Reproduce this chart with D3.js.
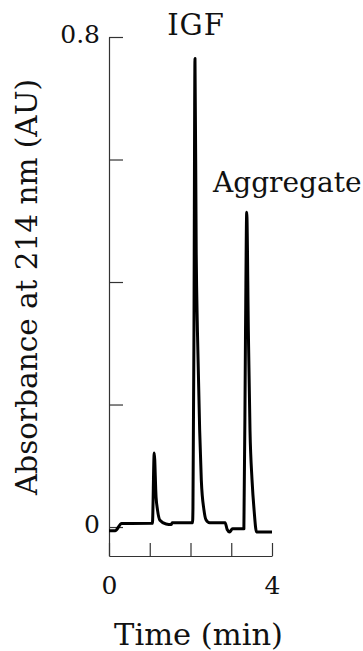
<!DOCTYPE html>
<html>
<head>
<meta charset="utf-8">
<script src="https://cdn.jsdelivr.net/npm/d3@7"></script>
<style>
  html, body { margin: 0; padding: 0; background: #fff; }
  svg { display: block; }
  text { font-family: "DejaVu Serif", "Liberation Serif", serif; fill: #111; }
</style>
</head>
<body>
<svg id="chart" width="363" height="651"></svg>
<script>
// Chromatogram trace: time (min) and absorbance (AU)
const timeMin = [0, 0.15, 0.31, 1.065, 1.11, 1.155, 1.19, 1.25, 1.4, 1.53, 1.55,
    2.05, 2.06, 2.085, 2.11, 2.14, 2.17, 2.225, 2.265, 2.33, 2.38, 2.47,
    2.85, 2.9, 2.96, 3.03, 3.31, 3.35, 3.38, 3.42, 3.46, 3.51, 3.56, 3.62, 4.0];
const absorbance = [-0.006, -0.006, 0.0057, 0.006, 0.121, 0.049, 0.028, 0.011, 0.005, 0.004, 0.007,
    0.007, 0.03, 0.32, 0.765, 0.45, 0.32, 0.158, 0.077, 0.028, 0.012, 0.007,
    0.007, -0.004, -0.008, -0.003, -0.003, 0.32, 0.514, 0.32, 0.158, 0.077, 0.028, -0.008, -0.008];

const xTicks = [0, 1, 2, 3, 4];
const xTickLabels = ["0", "", "", "", "4"];
const yTicks = [0, 0.2, 0.4, 0.6, 0.8];
const yTickLabels = ["0", "", "", "", "0.8"];

const peakNames = ["IGF", "Aggregate"];

const svg = d3.select("#chart");

// plot box
const plotLeft = 109, plotRight = 272, plotTop = 37, plotBottom = 556;

const x = d3.scaleLinear().domain([0, 4]).range([plotLeft, plotRight]);
const y = d3.scaleLinear().domain([-0.0473, 0.8]).range([plotBottom, plotTop]);

const points = timeMin.map((t, i) => ({ t: t, v: absorbance[i] }));

// axes, ticks pointing inward
const yAxis = d3.axisLeft(y)
    .tickValues(yTicks)
    .tickSizeInner(-14)
    .tickSizeOuter(0)
    .tickPadding(9)
    .tickFormat((d, i) => yTickLabels[i]);

const xAxis = d3.axisBottom(x)
    .tickValues(xTicks)
    .tickSizeInner(-13)
    .tickSizeOuter(0)
    .tickPadding(20)
    .tickFormat((d, i) => xTickLabels[i]);

const gy = svg.append("g")
    .attr("transform", `translate(${plotLeft},0)`)
    .call(yAxis);

const gx = svg.append("g")
    .attr("transform", `translate(0,${plotBottom})`)
    .call(xAxis);

[gx, gy].forEach(g => {
    g.selectAll("path, line").attr("stroke", "#333").attr("stroke-width", 1.2);
    g.selectAll("text")
        .style("font-family", '"DejaVu Serif", serif')
        .attr("font-size", 25)
        .attr("fill", "#111");
});
gy.selectAll("text").attr("dy", "0.22em");

// trace
const line = d3.line()
    .x(d => x(d.t))
    .y(d => y(d.v))
    .curve(d3.curveMonotoneX);

svg.append("path")
    .datum(points)
    .attr("fill", "none")
    .attr("stroke", "#000")
    .attr("stroke-width", 3)
    .attr("stroke-linejoin", "round")
    .attr("d", line);

// peak labels
svg.append("text")
    .attr("x", 196)
    .attr("y", 35)
    .attr("text-anchor", "middle")
    .attr("font-size", 29)
    .attr("letter-spacing", 1)
    .text(peakNames[0]);

svg.append("text")
    .attr("x", 213)
    .attr("y", 192)
    .attr("font-size", 28)
    .text(peakNames[1]);

// axis titles
svg.append("text")
    .attr("x", (plotLeft + plotRight) / 2 + 8)
    .attr("y", 645)
    .attr("text-anchor", "middle")
    .attr("font-size", 30.5)
    .text("Time (min)");

svg.append("text")
    .attr("transform", "translate(37,287) rotate(-90)")
    .attr("text-anchor", "middle")
    .attr("font-size", 29.5)
    .text("Absorbance at 214 nm (AU)");
</script>
</body>
</html>
